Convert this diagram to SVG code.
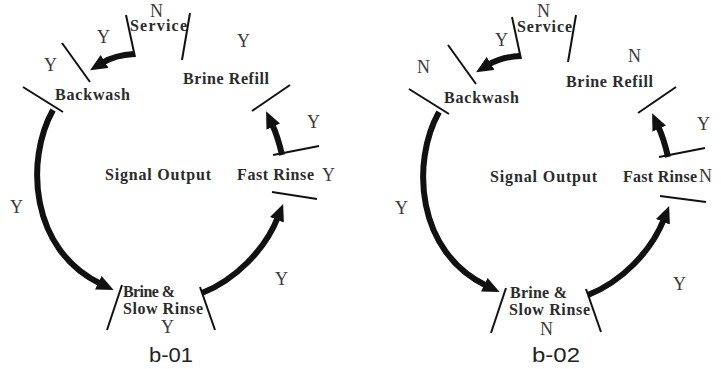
<svg xmlns="http://www.w3.org/2000/svg" width="721" height="369" viewBox="0 0 721 369">
<style>
.tick{stroke:#111;stroke-width:2;fill:none}
.arr{stroke:#111;stroke-width:6;fill:none;marker-end:url(#ah)}
.lbl{font-family:"Liberation Serif","Times New Roman",serif;font-weight:bold;font-size:16px;fill:#2b2b2b}
.yn{font-family:"Liberation Serif","Times New Roman",serif;font-size:18px;fill:#3a3a3a}
.cap{font-family:"Liberation Sans",Arial,sans-serif;font-size:21px;fill:#222}
</style>
<defs>
<marker id="ah" markerUnits="userSpaceOnUse" viewBox="0 0 17 15" markerWidth="17" markerHeight="15" refX="3" refY="7.5" orient="auto">
<path d="M0,0 L17,7.5 L0,15 z" fill="#111"/>
</marker>
</defs>
<rect width="721" height="369" fill="#fff"/>

<g id="b01">
<g id="b01-connectors">
<path class="arr" d="M134,54 Q115,55 102,63"/>
<path class="arr" d="M53,110 C25,160 30,250 101,284"/>
<path class="arr" d="M202,293 C235,280 265,250 278,217"/>
<path class="arr" d="M282,155 Q278,137 272,124"/>
</g>
<g id="b01-service"><line class="tick" x1="126" y1="15" x2="135" y2="57"/><line class="tick" x1="190" y1="13" x2="182" y2="60"/><text class="lbl" x="130" y="31" textLength="57" lengthAdjust="spacing">Service</text></g>
<g id="b01-backwash"><line class="tick" x1="62" y1="43" x2="90" y2="82"/><line class="tick" x1="23" y1="87" x2="63" y2="112"/><text class="lbl" x="55" y="100" textLength="75" lengthAdjust="spacing">Backwash</text></g>
<g id="b01-brinerefill"><line class="tick" x1="290" y1="85" x2="252" y2="111"/><text class="lbl" x="183" y="84" textLength="86" lengthAdjust="spacing">Brine Refill</text></g>
<g id="b01-fastrinse"><line class="tick" x1="273" y1="155" x2="319" y2="146"/><line class="tick" x1="272" y1="192" x2="317" y2="199"/><text class="lbl" x="237" y="180" textLength="77" lengthAdjust="spacing">Fast Rinse</text></g>
<g id="b01-brineslow"><line class="tick" x1="122" y1="285" x2="107" y2="330"/><line class="tick" x1="200" y1="287" x2="215" y2="330"/><text class="lbl" x="123" y="297" textLength="52" lengthAdjust="spacing">Brine &amp;</text><text class="lbl" x="123" y="314" textLength="80" lengthAdjust="spacing">Slow Rinse</text></g>
<g id="b01-signal"><text class="lbl" x="105" y="180" textLength="106" lengthAdjust="spacing">Signal Output</text></g>
<g id="b01-outputs">
<text class="yn" x="150" y="17">N</text>
<text class="yn" x="97" y="43">Y</text>
<text class="yn" x="44" y="71">Y</text>
<text class="yn" x="237" y="47">Y</text>
<text class="yn" x="307" y="128">Y</text>
<text class="yn" x="322" y="181">Y</text>
<text class="yn" x="10" y="213">Y</text>
<text class="yn" x="161" y="333">Y</text>
<text class="yn" x="275" y="285">Y</text>
</g>
<text class="cap" x="149" y="362" textLength="44" lengthAdjust="spacingAndGlyphs">b-01</text>
</g>

<g id="b02" transform="translate(386,2)">
<g id="b02-connectors">
<path class="arr" d="M134,54 Q115,55 102,63"/>
<path class="arr" d="M53,110 C25,160 30,250 101,284"/>
<path class="arr" d="M202,293 C235,280 265,250 278,217"/>
<path class="arr" d="M282,155 Q278,137 272,124"/>
</g>
<g id="b02-service"><line class="tick" x1="126" y1="15" x2="135" y2="57"/><line class="tick" x1="190" y1="13" x2="182" y2="60"/><text class="lbl" x="131" y="30" textLength="55" lengthAdjust="spacing">Service</text></g>
<g id="b02-backwash"><line class="tick" x1="62" y1="43" x2="90" y2="82"/><line class="tick" x1="23" y1="87" x2="63" y2="112"/><text class="lbl" x="58" y="101" textLength="75" lengthAdjust="spacing">Backwash</text></g>
<g id="b02-brinerefill"><line class="tick" x1="290" y1="85" x2="252" y2="111"/><text class="lbl" x="180" y="85" textLength="87" lengthAdjust="spacing">Brine Refill</text></g>
<g id="b02-fastrinse"><line class="tick" x1="273" y1="155" x2="319" y2="146"/><line class="tick" x1="274" y1="194" x2="320" y2="200"/><text class="lbl" x="237" y="180" textLength="74" lengthAdjust="spacing">Fast Rinse</text></g>
<g id="b02-brineslow"><line class="tick" x1="120" y1="286" x2="105" y2="331"/><line class="tick" x1="200" y1="287" x2="215" y2="330"/><text class="lbl" x="124" y="296" textLength="57" lengthAdjust="spacing">Brine &amp;</text><text class="lbl" x="123" y="313" textLength="81" lengthAdjust="spacing">Slow Rinse</text></g>
<g id="b02-signal"><text class="lbl" x="104" y="180" textLength="107" lengthAdjust="spacing">Signal Output</text></g>
<g id="b02-outputs">
<text class="yn" x="151" y="15">N</text>
<text class="yn" x="109" y="44">Y</text>
<text class="yn" x="31" y="71">N</text>
<text class="yn" x="242" y="60">N</text>
<text class="yn" x="311" y="128">Y</text>
<text class="yn" x="313" y="180">N</text>
<text class="yn" x="9" y="212">Y</text>
<text class="yn" x="154" y="333">N</text>
<text class="yn" x="287" y="288">Y</text>
</g>
<text class="cap" x="146" y="360" textLength="48" lengthAdjust="spacingAndGlyphs">b-02</text>
</g>
</svg>
